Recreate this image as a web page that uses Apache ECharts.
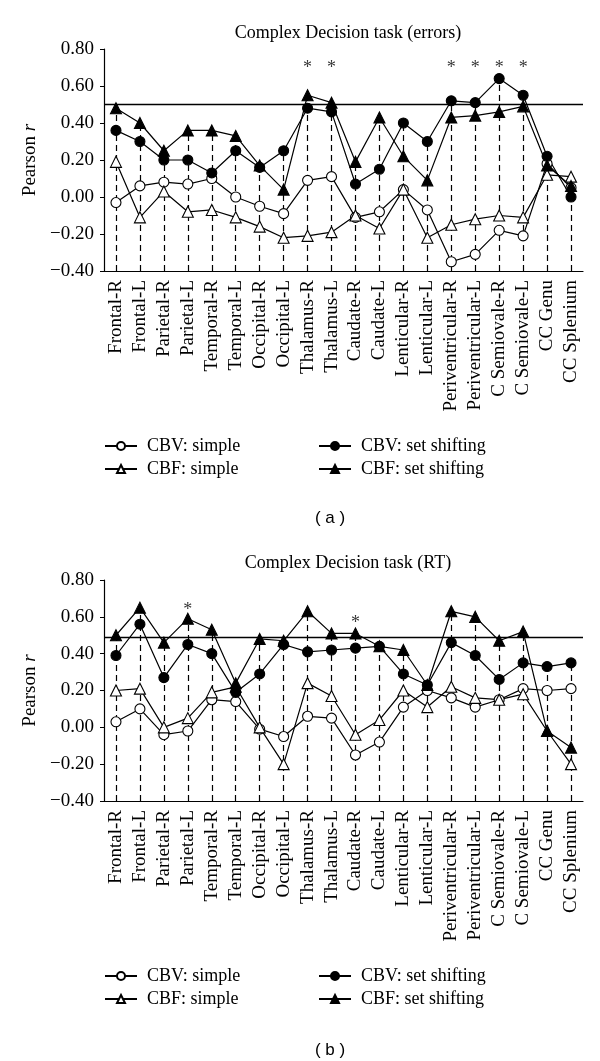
<!DOCTYPE html>
<html>
<head>
<meta charset="utf-8">
<script src="https://cdn.jsdelivr.net/npm/echarts@6/dist/echarts.min.js"></script>
<style>
  html, body { margin: 0; padding: 0; background: #fff; }
  #main { width: 600px; height: 1061px; }
</style>
</head>
<body>
<div id="main"></div>
<script>
const categories = [
  'Frontal-R', 'Frontal-L', 'Parietal-R', 'Parietal-L', 'Temporal-R', 'Temporal-L',
  'Occipital-R', 'Occipital-L', 'Thalamus-R', 'Thalamus-L', 'Caudate-R', 'Caudate-L',
  'Lenticular-R', 'Lenticular-L', 'Periventricular-R', 'Periventricular-L',
  'C Semiovale-R', 'C Semiovale-L', 'CC Genu', 'CC Splenium'
]
const seriesNames = ['CBV: simple', 'CBF: simple', 'CBV: set shifting', 'CBF: set shifting']

// (a) errors
const aCbvSimple = [-0.03, 0.06, 0.08, 0.07, 0.10, 0.00, -0.05, -0.09, 0.09, 0.11, -0.11, -0.08, 0.04, -0.07, -0.35, -0.31, -0.18, -0.21, 0.18, 0.05]
const aCbfSimple = [0.19, -0.11, 0.03, -0.08, -0.07, -0.11, -0.16, -0.22, -0.21, -0.19, -0.10, -0.17, 0.04, -0.22, -0.15, -0.12, -0.10, -0.11, 0.12, 0.11]
const aCbvShift = [0.36, 0.30, 0.20, 0.20, 0.13, 0.25, 0.16, 0.25, 0.48, 0.46, 0.07, 0.15, 0.40, 0.30, 0.52, 0.51, 0.64, 0.55, 0.22, 0.00]
const aCbfShift = [0.48, 0.40, 0.25, 0.36, 0.36, 0.33, 0.17, 0.04, 0.55, 0.51, 0.19, 0.43, 0.22, 0.09, 0.43, 0.44, 0.46, 0.49, 0.17, 0.06]
const aStars = [['Thalamus-R', 0.72], ['Thalamus-L', 0.72], ['Periventricular-R', 0.72],
  ['Periventricular-L', 0.72], ['C Semiovale-R', 0.72], ['C Semiovale-L', 0.72]]
const aThreshold = 0.50

// (b) RT
const bCbvSimple = [0.03, 0.10, -0.04, -0.02, 0.15, 0.14, -0.01, -0.05, 0.06, 0.05, -0.15, -0.08, 0.11, 0.20, 0.16, 0.11, 0.15, 0.21, 0.20, 0.21]
const bCbfSimple = [0.20, 0.21, 0.00, 0.05, 0.19, 0.22, 0.00, -0.20, 0.24, 0.17, -0.04, 0.04, 0.20, 0.11, 0.22, 0.16, 0.15, 0.18, -0.02, -0.20]
const bCbvShift = [0.39, 0.56, 0.27, 0.45, 0.40, 0.19, 0.29, 0.45, 0.41, 0.42, 0.43, 0.44, 0.29, 0.23, 0.46, 0.39, 0.26, 0.35, 0.33, 0.35]
const bCbfShift = [0.50, 0.65, 0.46, 0.59, 0.53, 0.24, 0.48, 0.47, 0.63, 0.51, 0.51, 0.44, 0.42, 0.23, 0.63, 0.60, 0.47, 0.52, -0.02, -0.11]
const bStars = [['Parietal-L', 0.66], ['Caudate-R', 0.585]]
const bThreshold = 0.49

const yMin = -0.4
const yMax = 0.8
const yStep = 0.2

const SERIF = 'Liberation Serif'
const black = '#000'

function lineSeries(name, data, idx, open, symbol) {
  return {
    name: name,
    type: 'line',
    xAxisIndex: idx,
    yAxisIndex: idx,
    data: data,
    symbol: symbol,
    symbolSize: symbol === 'circle' ? 10 : 11,
    showSymbol: true,
    z: 3,
    lineStyle: { color: black, width: 1.2 },
    itemStyle: { color: open ? '#fff' : black, borderColor: black, borderWidth: 1.1 },
    emphasis: { disabled: true }
  }
}

function panel(idx, vals, stars, threshold) {
  const tops = categories.map((c, i) => Math.max(vals[0][i], vals[1][i], vals[2][i], vals[3][i]))
  const s = [
    lineSeries(seriesNames[0], vals[0], idx, true, 'circle'),
    lineSeries(seriesNames[1], vals[1], idx, true, 'triangle'),
    lineSeries(seriesNames[2], vals[2], idx, false, 'circle'),
    lineSeries(seriesNames[3], vals[3], idx, false, 'triangle')
  ]
  // dashed drop lines from the axis up to the highest point, behind the markers
  s[0].markLine = {
    silent: true,
    z: 1,
    symbol: ['none', 'none'],
    label: { show: false },
    lineStyle: { type: [6, 4], color: black, width: 1.2 },
    data: categories.map((c, i) => [{ coord: [c, yMin] }, { coord: [c, tops[i]] }])
  }
  // threshold line
  s[1].markLine = {
    silent: true,
    z: 1,
    symbol: ['none', 'none'],
    label: { show: false },
    lineStyle: { type: 'solid', color: black, width: 1.4 },
    data: [{ yAxis: threshold }]
  }
  s.push({
    type: 'scatter',
    xAxisIndex: idx,
    yAxisIndex: idx,
    data: stars,
    symbolSize: 1,
    itemStyle: { color: 'rgba(0,0,0,0)' },
    silent: true,
    label: {
      show: true, position: 'inside', formatter: '*', offset: [0, 4],
      fontFamily: SERIF, fontSize: 18, color: black
    }
  })
  return s
}

const gridTops = [49, 580]
const gridH = [222, 221]

const chart = echarts.init(document.getElementById('main'))

const option = {
  animation: false,
  backgroundColor: '#fff',
  title: [
    { text: 'Complex Decision task (errors)', left: 343, top: 19, textAlign: 'center',
      textStyle: { fontFamily: SERIF, fontSize: 18, fontWeight: 'normal', color: black } },
    { text: 'Complex Decision task (RT)', left: 343, top: 549, textAlign: 'center',
      textStyle: { fontFamily: SERIF, fontSize: 18, fontWeight: 'normal', color: black } },
    { text: '( a )', left: 325, top: 505, textAlign: 'center',
      textStyle: { fontFamily: 'Liberation Sans', fontSize: 17, fontWeight: 'normal', color: black } },
    { text: '( b )', left: 325, top: 1037, textAlign: 'center',
      textStyle: { fontFamily: 'Liberation Sans', fontSize: 17, fontWeight: 'normal', color: black } }
  ],
  legend: [
    { left: 104, top: 437, data: [seriesNames[0], seriesNames[1]] },
    { left: 318, top: 437, data: [seriesNames[2], seriesNames[3]] },
    { left: 104, top: 967, data: [seriesNames[0], seriesNames[1]] },
    { left: 318, top: 967, data: [seriesNames[2], seriesNames[3]] }
  ].map(l => Object.assign({
    orient: 'vertical',
    padding: 0,
    itemWidth: 32,
    itemHeight: 10,
    itemGap: 5,
    selectedMode: false,
    textStyle: { fontFamily: SERIF, fontSize: 18, color: black, padding: [0, 0, 0, 5] }
  }, l)),
  grid: [0, 1].map(i => ({ left: 104, right: 17, top: gridTops[i], height: gridH[i] })),
  xAxis: [0, 1].map(i => ({
    type: 'category',
    gridIndex: i,
    data: categories,
    boundaryGap: true,
    axisLine: { onZero: false, lineStyle: { color: black, width: 1.2 } },
    axisTick: { show: false },
    splitLine: { show: false },
    axisLabel: { interval: 0, rotate: 90, margin: 9, color: black, fontFamily: SERIF, fontSize: 19 }
  })),
  yAxis: [0, 1].map(i => ({
    type: 'value',
    gridIndex: i,
    min: yMin,
    max: yMax,
    interval: yStep,
    name: 'Pearson {i|r}',
    nameLocation: 'middle',
    nameGap: 63,
    nameTextStyle: {
      fontFamily: SERIF, fontSize: 19, color: black,
      rich: { i: { fontFamily: SERIF, fontSize: 19, fontStyle: 'italic', color: black } }
    },
    axisLine: { show: true, lineStyle: { color: black, width: 1.2 } },
    axisTick: { show: true, length: 4, lineStyle: { color: black } },
    splitLine: { show: false },
    axisLabel: {
      margin: 10, color: black, fontFamily: SERIF, fontSize: 19,
      formatter: v => (v < 0 ? '\u2212' : '') + Math.abs(v).toFixed(2)
    }
  })),
  series: [
    ...panel(0, [aCbvSimple, aCbfSimple, aCbvShift, aCbfShift], aStars, aThreshold),
    ...panel(1, [bCbvSimple, bCbfSimple, bCbvShift, bCbfShift], bStars, bThreshold)
  ]
}

chart.setOption(option)
</script>
</body>
</html>
